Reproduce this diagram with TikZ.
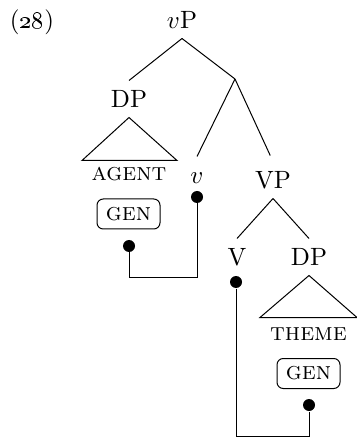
\documentclass[tikz,border=0pt]{standalone}
\usepackage{tikz}

\tikzset{
  cat/.style={inner sep=0pt, text height=6.8pt, text depth=0pt, outer sep=4pt},
  feat/.style={inner sep=0pt, font=\scshape},
  genbox/.style={draw, rounded corners=2.5pt, font=\scshape, minimum width=25.2pt, minimum height=12pt, inner sep=0pt},
  dot/.style={circle, fill, inner sep=0pt, minimum size=4.8pt}
}

\begin{document}
\begin{tikzpicture}[x=0.4pt, y=-0.4pt]
  \useasboundingbox (0,0) rectangle (357,438);

  % example number
  \node (exnum) at (32,22) {(\oldstylenums{28})};

  % upper part of the tree
  \node[cat] (vP) at (182,20) {$v$P};
  \coordinate (vbar) at (235,79);
  \node[cat] (DPa) at (129,99) {DP};
  \node[cat] (v) at (197,175) {$v$};
  \node[cat] (VP) at (273,180) {VP};
  \draw (vP.south) -- (DPa.north);
  \draw (vP.south) -- (vbar);
  \draw (vbar) -- (v.north);
  \draw[shorten >=2.6pt] (vbar) -- (VP.north);

  % subject DP
  \draw (DPa.south) -- ++(-47,43) -- ++(95,0) -- cycle;
  \node[feat] (agent) at (129,174.5) {agent};
  \node[genbox] (gena) at (128.5,214) {gen};

  % lower part of the tree
  \node[cat] (V) at (237,257) {V};
  \node[cat] (DPb) at (309,257) {DP};
  \draw (VP.south) -- (V.north);
  \draw (VP.south) -- (DPb.north);

  % object DP
  \draw (DPb.south) -- ++(-49,42) -- ++(97,0) -- cycle;
  \node[feat] (theme) at (308.5,334.5) {theme};
  \node[genbox] (genb) at (308.5,373.5) {gen};

  % Agree links
  \node[dot] (dga) at (129,246) {};
  \node[dot] (dv) at (197,197) {};
  \coordinate (lka) at (129,277);
  \draw (dga) -- (lka) -| (dv);

  \node[dot] (dV) at (236,282) {};
  \node[dot] (dgb) at (309,405) {};
  \coordinate (lkb) at (236,436);
  \draw (dV) -- (lkb) -| (dgb);
\end{tikzpicture}
\end{document}
